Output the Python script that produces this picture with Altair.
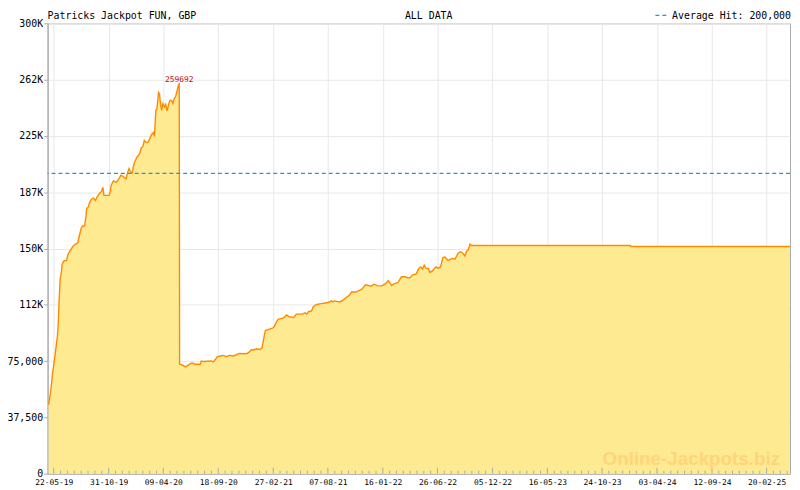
import altair as alt
import pandas as pd

# ---------------- data ----------------
START = "2019-05-04"
END = "2025-04-30"

# days after START for each sampled point of the jackpot curve
day_offsets = [
    3, 6, 10, 14, 19, 24, 29, 31, 34, 37,
    40, 43, 48, 56, 60, 67, 75, 82, 89, 93,
    99, 103, 109, 113, 115, 120, 125, 130, 135, 141,
    146, 152, 159, 163, 166, 181, 185, 187, 194, 202,
    210, 216, 223, 231, 236, 240, 245, 250, 253, 257,
    264, 271, 276, 281, 285, 290, 296, 301, 306, 312,
    315, 319, 322, 327, 330, 332, 336, 340, 344, 348,
    352, 355, 360, 365, 369, 373, 377, 383, 386, 388,
    389, 399, 406, 413, 423, 430, 432, 450, 453, 461,
    482, 488, 495, 500, 509, 519, 527, 536, 548, 565,
    577, 588, 594, 601, 605, 615, 625, 632, 639, 642,
    654, 663, 668, 675, 680, 692, 700, 704, 711, 726,
    733, 750, 759, 764, 769, 778, 783, 793, 807, 827,
    836, 841, 846, 860, 870, 879, 889, 896, 908, 918,
    927, 937, 947, 953, 963, 971, 985, 995, 1004, 1014,
    1021, 1033, 1043, 1052, 1067, 1076, 1086, 1094, 1100, 1105,
    1110, 1115, 1122, 1127, 1134, 1144, 1151, 1158, 1165, 1171,
    1180, 1192, 1201, 1209, 1216, 1222, 1230, 1235, 1240, 1245,
    1249, 1717, 1719, 2188,
]

# jackpot value in thousands of GBP
jackpot_k = [
    45.9, 50, 56.5, 65.5, 74, 82.7, 91.7, 98, 115.5, 129.7,
    133, 139.5, 141.7, 142, 146, 148.7, 151.5, 153, 153.7, 158,
    163.5, 165, 165, 171, 176.6, 177.7, 181.4, 183, 183.6, 182,
    184.3, 186.5, 188, 190.8, 185.4, 185.4, 188, 192, 195, 194,
    196.3, 198.9, 198, 196.3, 200.6, 203.3, 201, 200.6, 205, 208,
    211, 213, 217, 218, 222, 220.7, 220.7, 223, 225.8, 227.3,
    224.7, 242, 242.5, 254, 253, 247.6, 242, 246.5, 244.3, 246,
    241.7, 244.3, 248.7, 248.7, 246.5, 249.8, 250.9, 256.3, 259.2, 259.692,
    72.9, 72.2, 71.2, 72.2, 73.6, 73.6, 72.9, 72.9, 75.1, 74.7,
    75.1, 74.5, 76.2, 77.9, 78.4, 78.8, 77.9, 78.8, 78.4, 80.1,
    79.9, 80.1, 81, 82.7, 82.3, 83.2, 82.7, 83.8, 92.5, 95.4,
    96.3, 96.9, 98, 101.3, 103, 103.5, 104.6, 105.7, 104.6, 104.1,
    106.3, 106.3, 107.2, 106.3, 107.9, 108.5, 111.2, 112.7, 113.3, 114,
    115.1, 114.4, 115.1, 114.4, 115.5, 117.2, 118.8, 121, 121, 122,
    123.1, 125.8, 125.3, 124.9, 126.2, 125.3, 125.1, 126.4, 128.6, 125.3,
    126.4, 127.5, 131.2, 131.2, 130.3, 132.5, 133, 136.7, 137.7, 136.2,
    139, 136.9, 136.7, 134.1, 135.1, 137.7, 136.9, 137.7, 143.9, 144.3,
    142.1, 143.4, 143, 146.5, 147.8, 147.2, 145, 148.2, 149.3, 153,
    152, 152, 151.3, 151.3,
]

major_tick_dates = [
    "2019-05-22", "2019-10-31", "2020-04-09", "2020-09-18", "2021-02-27",
    "2021-08-07", "2022-01-16", "2022-06-26", "2022-12-05", "2023-05-16",
    "2023-10-24", "2024-04-03", "2024-09-12", "2025-02-20",
]

y_tick_values = [0, 37500, 75000, 112500, 150000, 187500, 225000, 262500, 300000]
y_tick_labels = ["0", "37,500", "75,000", "112K", "150K", "187K", "225K", "262K", "300K"]

peak_value = 259692
average_hit = 200000

chart_title = "Patricks Jackpot FUN, GBP"
range_label = "ALL DATA"
legend_label = "Average Hit: 200,000"
watermark_text = "Online-Jackpots.biz"

# ---------------- styling ----------------
W, H = 750, 455
MONO = "DejaVu Sans Mono"
AXIS_GRAY = "#aaaaaa"
GRID_GRAY = "#e8e8e8"
FILL = "#feea90"
LINE = "#ff8a00"
BLUE = "#1a9ad6"


def to_ms(ts):
    return int(pd.Timestamp(ts).value // 10**6)


start = pd.Timestamp(START)
df = pd.DataFrame({
    "date": [(start + pd.Timedelta(days=d)).strftime("%Y-%m-%dT00:00:00Z") for d in day_offsets],
    "value": [round(v * 1000) for v in jackpot_k],
})
df.loc[df["value"].idxmax(), "value"] = peak_value

peak_df = df.loc[[df["value"].idxmax()]].copy()
peak_df["label"] = str(peak_value)

# minor ticks: 7 subdivisions between major ticks
maj = pd.to_datetime(major_tick_dates)
minor = []
for a, b in zip(maj[:-1], maj[1:]):
    step = (b - a) / 8
    for k in range(1, 8):
        minor.append(a + step * k)
step = (maj[1] - maj[0]) / 8
t = maj[-1] + step
while t <= pd.Timestamp(END):
    minor.append(t)
    t += step
t = maj[0] - step
while t >= pd.Timestamp(START):
    minor.append(t)
    t -= step

major_df = pd.DataFrame({"date": [d.strftime("%Y-%m-%dT%H:%M:%SZ") for d in maj]})
minor_df = pd.DataFrame({"date": [d.strftime("%Y-%m-%dT%H:%M:%SZ") for d in minor]})

x_scale = alt.Scale(type="utc", domain=[to_ms(START), to_ms(END)])
y_scale = alt.Scale(domain=[0, 300000], nice=False, zero=True)

label_expr = ""
for v, lab in zip(y_tick_values, y_tick_labels):
    label_expr += f"datum.value == {v} ? '{lab}' : "
label_expr += "''"

x_axis = alt.Axis(
    values=[to_ms(d) for d in major_tick_dates],
    format="%d-%m-%y",
    title=None,
    ticks=False,
    labelPadding=5,
    labelFont=MONO,
    labelFontSize=8,
    labelColor="black",
    labelFlush=False,
    labelOverlap=False,
    grid=True,
    gridColor=GRID_GRAY,
    domainColor=AXIS_GRAY,
)
y_axis = alt.Axis(
    values=y_tick_values,
    labelExpr=label_expr,
    title=None,
    tickSize=4,
    tickColor=AXIS_GRAY,
    labelPadding=1,
    labelFont=MONO,
    labelFontSize=10,
    labelColor="black",
    grid=True,
    gridColor=GRID_GRAY,
    domainColor=AXIS_GRAY,
)

X = alt.X("date:T", scale=x_scale, axis=x_axis)
Y = alt.Y("value:Q", scale=y_scale, axis=y_axis)

area = alt.Chart(df).mark_area(color=FILL, opacity=1).encode(x=X, y=Y)
line = alt.Chart(df).mark_line(color=LINE, strokeWidth=1.4).encode(x=X, y=Y)
avg_rule = alt.Chart(pd.DataFrame({"value": [average_hit]})).mark_rule(
    stroke=BLUE, color=BLUE, strokeOpacity=1, strokeDash=[4, 3], strokeWidth=1.3
).encode(y=Y)

major_ticks = alt.Chart(major_df).mark_rule(color=AXIS_GRAY).encode(
    x=X, y=alt.value(H), y2=alt.value(H - 6)
)
minor_ticks = alt.Chart(minor_df).mark_rule(color=AXIS_GRAY).encode(
    x=X, y=alt.value(H), y2=alt.value(H - 3)
)

peak_text = alt.Chart(peak_df).mark_text(
    color="#cc0000", font=MONO, fontSize=8, baseline="alphabetic", dy=-2
).encode(x=X, y=Y, text="label:N")

watermark = alt.Chart(pd.DataFrame({"t": [watermark_text]})).mark_text(
    font="Liberation Sans", fontWeight="bold", fontSize=19, color="#ffd47c",
    align="right", baseline="alphabetic",
).encode(x=alt.value(W - 10), y=alt.value(H - 9), text="t:N")

title_text = alt.Chart(pd.DataFrame({"t": [chart_title]})).mark_text(
    font=MONO, fontSize=10, color="black", align="left", baseline="alphabetic"
).encode(x=alt.value(0), y=alt.value(-4), text="t:N")

range_text = alt.Chart(pd.DataFrame({"t": [range_label]})).mark_text(
    font=MONO, fontSize=10, color="black", align="center", baseline="alphabetic"
).encode(x=alt.value(round(W * 0.513)), y=alt.value(-4), text="t:N")

legend_dash = alt.Chart(pd.DataFrame({"t": [legend_label]})).mark_rule(
    stroke=BLUE, color=BLUE, strokeOpacity=1, strokeDash=[4, 3], strokeWidth=1.3
).encode(x=alt.value(W - 136), x2=alt.value(W - 122), y=alt.value(-8))

legend_text = alt.Chart(pd.DataFrame({"t": [legend_label]})).mark_text(
    font=MONO, fontSize=10, color="black", align="right", baseline="alphabetic"
).encode(x=alt.value(W + 1), y=alt.value(-4), text="t:N")

chart = alt.layer(
    area, line, avg_rule, major_ticks, minor_ticks, peak_text, watermark,
    title_text, range_text, legend_dash, legend_text,
).properties(
    width=W,
    height=H,
    padding={"left": 40, "top": 13, "right": 2, "bottom": 14},
    autosize=alt.AutoSizeParams(type="none"),
    background="white",
).configure_view(
    stroke=AXIS_GRAY, strokeWidth=1
)

chart.save("out.html", embed_options={"renderer": "svg", "actions": False})
